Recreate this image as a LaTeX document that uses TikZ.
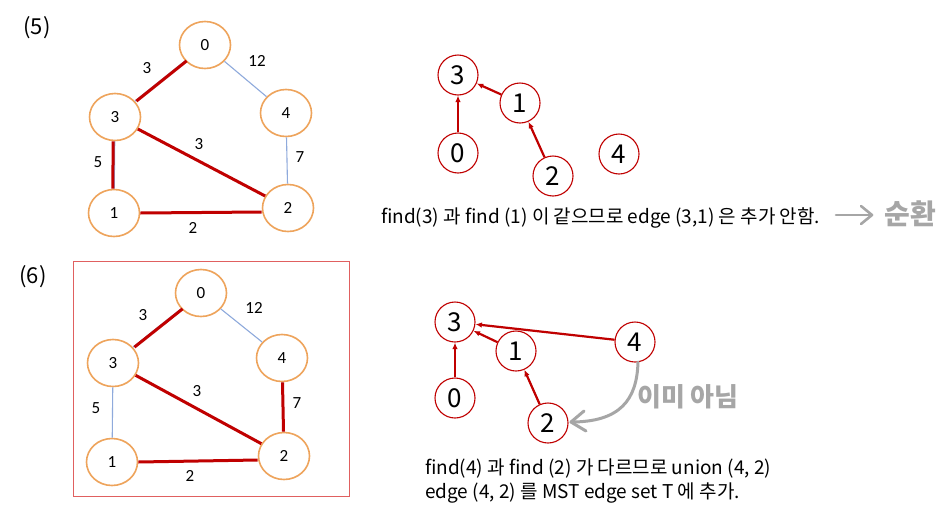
\documentclass[tikz,border=0pt]{standalone}
\usepackage{fontspec}
\setmainfont{Noto Sans CJK KR}
\newfontfamily\calib{Carlito}
\usetikzlibrary{arrows.meta,shapes.geometric}
\definecolor{dred}{RGB}{192,0,0}
\definecolor{orng}{RGB}{238,164,92}
\definecolor{lblue}{RGB}{143,170,220}
\definecolor{hgray}{RGB}{166,166,166}
\definecolor{framered}{RGB}{224,96,96}
\begin{document}
\begin{tikzpicture}[x=1pt,y=-1pt,
 gnode/.style={ellipse,draw=orng,line width=1.6pt,minimum width=51pt,minimum height=47pt,inner sep=0pt,font=\fontsize{17}{17}\selectfont\calib},
 tnode/.style={circle,draw=dred,line width=1.1pt,minimum size=40pt,inner sep=0pt,font=\fontsize{26}{26}\selectfont},
 redge/.style={draw=dred,line width=3pt},
 bedge/.style={draw=lblue,line width=1.1pt},
 elabel/.style={font=\fontsize{17}{17}\selectfont\calib,inner sep=0pt},
 tarrow/.style={draw=dred,line width=2.2pt,-{Latex[length=6.5pt,width=5.5pt]}},
 note/.style={font=\fontsize{19}{23}\selectfont,inner sep=0pt,anchor=west},
 hand/.style={draw=hgray,line width=3pt,line cap=round,line join=round},
 handtext/.style={text=hgray,font=\bfseries\fontsize{26}{26}\selectfont,inner sep=0pt},
 lbl/.style={font=\fontsize{22}{22}\selectfont,inner sep=0pt}
]
\useasboundingbox (0,0) rectangle (943,520);
\fill[white] (0,0) rectangle (943,520);

% ---------- (5) graph ----------
\node[lbl] (l5) at (37,28) {(5)};
\node[gnode] (a0) at (205,45) {0};
\node[gnode] (a3) at (115,117) {3};
\node[gnode] (a4) at (286,113) {4};
\node[gnode] (a1) at (114,213) {1};
\node[gnode] (a2) at (288,208) {2};
\draw[bedge] (a0) -- (a3);
\draw[bedge] (a0) -- (a4);
\draw[bedge] (a4) -- (a2);
\draw[bedge] (a3) -- (a1);
\draw[redge,transform canvas={xshift=1.5pt}] (a0) -- (a3);
\draw[redge,transform canvas={xshift=-1.5pt}] (a3) -- (a1);
\draw[redge] (a3) -- (a2);
\draw[redge] (a1.east) -- ([yshift=-4pt]a2.west);
\node[elabel] (w5a) at (147,68) {3};
\node[elabel] (w5b) at (257,61) {12};
\node[elabel] (w5c) at (199,144) {3};
\node[elabel] (w5d) at (98,162) {5};
\node[elabel] (w5e) at (300,157) {7};
\node[elabel] (w5f) at (193,228) {2};

% ---------- (5) tree ----------
\node[tnode] (b3) at (458,75) {3};
\node[tnode] (b1) at (520,103) {1};
\node[tnode] (b0) at (458,153) {0};
\node[tnode] (b2) at (553,176) {2};
\node[tnode] (b4) at (619,154) {4};
\draw[tarrow] (b0) -- (b3);
\draw[tarrow] (b1) -- (b3);
\draw[tarrow] (b2) -- (b1);
\node[note] (t5) at (381,218) {find(3) 과 find (1) 이 같으므로 edge (3,1) 은 추가 안함.};
\coordinate (r5a) at (836,215);
\coordinate (r5b) at (872,215);
\draw[hand,line width=2.6pt] (r5a) -- (r5b);
\draw[hand,line width=2.6pt] ([xshift=-11pt,yshift=-9pt]r5b) -- (r5b) -- ([xshift=-11pt,yshift=9pt]r5b);
\node[handtext,font=\bfseries\fontsize{28}{28}\selectfont] (h5) at (910,214) {순환};

% ---------- (6) graph ----------
\node[lbl] (l6) at (33,277) {(6)};
\draw[framered,line width=0.9pt] (73,261) rectangle (349,496);
\node[gnode] (c0) at (201,293) {0};
\node[gnode] (c3) at (113,363) {3};
\node[gnode] (c4) at (282,358) {4};
\node[gnode] (c1) at (112,462) {1};
\node[gnode] (c2) at (284,456) {2};
\draw[bedge] (c0) -- (c3);
\draw[bedge] (c0) -- (c4);
\draw[bedge] (c3) -- (c1);
\draw[bedge] (c4) -- (c2);
\draw[redge,transform canvas={xshift=1.5pt}] (c0) -- (c3);
\draw[redge] (c3) -- (c2);
\draw[redge] (c1.east) -- ([yshift=-4pt]c2.west);
\draw[redge] (c4) -- (c2);
\node[elabel] (w6a) at (143,315) {3};
\node[elabel] (w6b) at (254,308) {12};
\node[elabel] (w6c) at (197,391) {3};
\node[elabel] (w6d) at (96,408) {5};
\node[elabel] (w6e) at (297,403) {7};
\node[elabel] (w6f) at (190,476) {2};

% ---------- (6) tree ----------
\node[tnode] (d3) at (455,322) {3};
\node[tnode] (d1) at (516,351) {1};
\node[tnode] (d4) at (635,342) {4};
\node[tnode] (d0) at (455,398) {0};
\node[tnode] (d2) at (548,423) {2};
\draw[tarrow] (d0) -- (d3);
\draw[tarrow] (d1) -- (d3);
\draw[tarrow] (d2) -- (d1);
\draw[tarrow] (d4) -- (d3);
\coordinate (g0) at (638,362);
\coordinate (g1) at (571,422);
\draw[hand] (g0) .. controls (637,400) and (620,422) .. (g1);
\draw[hand] ([xshift=15pt,yshift=-9pt]g1) -- (g1) -- ([xshift=13pt,yshift=11pt]g1);
\node[handtext] (h6) at (688,397) {이미 아님};
\node[note] (t6a) at (425,468) {find(4) 과 find (2) 가 다르므로 union (4, 2)};
\node[note] (t6b) at (425,493) {edge (4, 2) 를 MST edge set T 에 추가.};
\end{tikzpicture}
\end{document}
